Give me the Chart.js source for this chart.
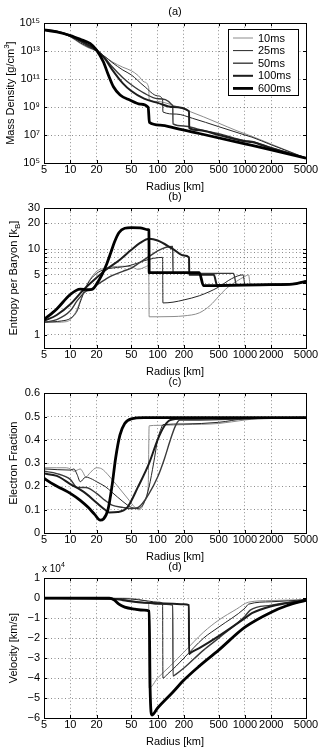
<!DOCTYPE html>
<html>
<head>
<meta charset="utf-8">
<script src="https://cdn.jsdelivr.net/npm/chart.js@4.4.0/dist/chart.umd.min.js"></script>
<style>
  body { margin: 0; background: #fff; width: 322px; height: 749px; position: relative; overflow: hidden; }
  .panel { position: absolute; left: 0; width: 322px; height: 194px; }
</style>
</head>
<body>
<div class="panel" style="top:0px"><canvas id="chart-a"></canvas></div>
<div class="panel" style="top:185px"><canvas id="chart-b"></canvas></div>
<div class="panel" style="top:370px"><canvas id="chart-c"></canvas></div>
<div class="panel" style="top:555px"><canvas id="chart-d"></canvas></div>
<script>
const FONT = "'Liberation Sans', Arial, Helvetica, sans-serif";

const timeLabels = ['10ms', '25ms', '50ms', '100ms', '600ms'];
const lineColors = ['#8c8c8c', '#262626', '#3a3a3a', '#1c1c1c', '#000000'];
const lineWidths = [1, 1, 1.4, 2, 2.8];

const radiusTicks = [5, 10, 20, 50, 100, 200, 500, 1000, 2000, 5000];
const densityTicksLog = [5, 7, 9, 11, 13, 15];
const entropyTicks = [1, 2, 3, 4, 5, 6, 7, 8, 9, 10, 20, 30];
const entropyLabels = [1, 5, 10, 20, 30];

/* ---- (a) mass density, log10 of g/cm^3 ---- */
const densR10 = [5, 7, 10, 13, 16, 20, 25, 30, 40, 50, 60, 70, 79, 80, 100, 139, 200, 336, 500, 812, 1100, 2000, 5000];
const densLog10 = [14.52, 14.4, 14.02, 13.55, 13.25, 13.0, 12.6, 12.25, 11.85, 11.6, 11.25, 10.8, 10.4, 9.55, 9.4, 9.2, 8.85, 8.3, 7.85, 7.3, 7.0, 6.35, 5.35];
const densR25 = [5, 7, 10, 13, 16, 20, 25, 30, 40, 50, 70, 100, 114, 115, 163, 250, 500, 1000, 1200, 2000, 5000];
const densLog25 = [14.52, 14.4, 14.05, 13.6, 13.3, 13.02, 12.6, 12.2, 11.65, 11.3, 10.5, 9.8, 9.55, 8.65, 8.5, 8.2, 7.6, 7.0, 6.85, 6.3, 5.35];
const densR50 = [5, 7, 10, 13, 16, 20, 25, 30, 40, 50, 70, 100, 149, 150, 200, 300, 500, 1000, 1200, 2000, 5000];
const densLog50 = [14.52, 14.4, 14.08, 13.7, 13.35, 13.05, 12.5, 11.9, 11.1, 10.6, 10.0, 9.6, 9.1, 7.8, 7.65, 7.4, 7.1, 6.6, 6.55, 6.1, 5.35];
const densR100 = [5, 7, 10, 13, 16, 20, 25, 30, 40, 50, 70, 100, 150, 229, 230, 300, 500, 1000, 1200, 2000, 5000];
const densLog100 = [14.52, 14.4, 14.1, 13.75, 13.45, 13.08, 12.45, 11.7, 10.7, 10.15, 9.6, 9.3, 9.0, 8.7, 7.5, 7.35, 7.0, 6.55, 6.5, 6.05, 5.35];
const densR600 = [5, 7, 10, 13, 16.8, 20, 23.9, 27.3, 31.2, 37.2, 48, 63, 78, 80.5, 107, 163, 300, 1000, 2000, 5000];
const densLog600 = [14.52, 14.38, 14.12, 13.85, 13.55, 13.07, 12.24, 11.29, 10.45, 9.86, 9.5, 9.21, 8.98, 7.9, 7.71, 7.48, 7.11, 6.37, 5.94, 5.35];

/* ---- (b) entropy per baryon ---- */
const entR10 = [5, 7, 9, 10, 11, 12, 13, 15, 17, 20, 25, 30, 40, 50, 60, 70, 79, 80, 100, 150, 200, 300, 400, 500, 600, 800, 1000, 1100, 1150, 2000, 3500, 5000];
const ent10 = [1.4, 1.4, 1.42, 1.5, 1.7, 2.0, 2.5, 3.6, 4.5, 5.5, 6.0, 6.2, 6.3, 6.2, 5.8, 6.1, 6.4, 1.62, 1.62, 1.63, 1.66, 1.8, 2.2, 2.8, 3.4, 4.2, 4.8, 5.0, 3.85, 3.85, 3.9, 4.2];
const entR25 = [5, 8, 10, 12, 13, 15, 17, 20, 25, 30, 40, 50, 70, 90, 114, 115, 150, 200, 300, 500, 700, 950, 1000, 2000, 3500, 5000];
const ent25 = [1.4, 1.45, 1.55, 1.9, 2.4, 3.5, 4.4, 5.2, 5.8, 6.0, 6.2, 6.5, 7.3, 7.8, 8.0, 2.35, 2.4, 2.55, 2.85, 3.6, 4.5, 5.0, 3.85, 3.85, 3.9, 4.2];
const entR50 = [5, 7, 10, 12, 15, 18, 20, 25, 30, 40, 50, 63, 80, 100, 125, 149, 150, 300, 500, 740, 800, 2000, 3500, 5000];
const ent50 = [1.4, 1.5, 1.9, 2.5, 3.2, 3.5, 3.8, 4.4, 4.9, 5.5, 6.0, 7.0, 8.2, 9.5, 10.5, 10.7, 5.2, 5.2, 5.2, 5.2, 3.8, 3.85, 3.9, 4.2];
const entR100 = [5, 7, 10, 14, 18, 26, 37, 50, 63, 80, 100, 150, 200, 229, 230, 440, 480, 2000, 3500, 5000];
const ent100 = [1.45, 1.7, 2.27, 3.3, 4.2, 5.8, 7.5, 9.8, 11.8, 13.2, 12.6, 10.0, 8.4, 8.0, 5.0, 5.0, 3.8, 3.85, 3.9, 4.2];
const entR600 = [5, 7, 10, 13, 16, 18, 20, 23, 26, 29, 32, 36, 42, 50, 63, 78, 79.5, 80, 150, 300, 335, 2000, 3500, 5000];
const ent600 = [1.5, 2.0, 2.95, 3.4, 3.35, 3.4, 3.9, 5.0, 6.6, 9.0, 12.0, 15.5, 17.5, 17.8, 17.7, 16.8, 16.6, 5.3, 5.3, 5.3, 3.75, 3.85, 3.9, 4.2];

/* ---- (c) electron fraction ---- */
const yeR10 = [5, 7, 9, 10, 11, 12, 13, 14, 15, 17, 20, 23, 27, 35, 45, 55, 60, 65, 72, 78, 80, 100, 200, 500, 1000, 2000, 5000];
const ye10 = [0.28, 0.28, 0.28, 0.275, 0.265, 0.27, 0.275, 0.26, 0.24, 0.26, 0.28, 0.275, 0.25, 0.2, 0.15, 0.11, 0.1, 0.105, 0.14, 0.2, 0.46, 0.462, 0.465, 0.47, 0.485, 0.495, 0.495];
const yeR25 = [5, 10, 11, 12, 13, 15, 18, 20, 25, 30, 40, 50, 60, 70, 80, 90, 100, 110, 115, 200, 500, 1000, 5000];
const ye25 = [0.275, 0.27, 0.275, 0.25, 0.22, 0.24, 0.23, 0.22, 0.2, 0.175, 0.135, 0.11, 0.105, 0.13, 0.2, 0.3, 0.4, 0.45, 0.465, 0.468, 0.475, 0.49, 0.495];
const yeR50 = [5, 7, 10, 12, 15, 20, 25, 30, 40, 50, 60, 80, 100, 120, 140, 160, 180, 300, 1000, 5000];
const ye50 = [0.265, 0.255, 0.23, 0.195, 0.195, 0.17, 0.14, 0.12, 0.11, 0.105, 0.11, 0.17, 0.24, 0.32, 0.4, 0.46, 0.485, 0.485, 0.49, 0.495];
const yeR100 = [5, 7, 10, 15, 20, 25, 28, 35, 45, 60, 80, 100, 120, 140, 200, 5000];
const ye100 = [0.255, 0.245, 0.21, 0.17, 0.13, 0.1, 0.088, 0.09, 0.11, 0.2, 0.3, 0.4, 0.46, 0.485, 0.49, 0.495];
const yeR600 = [5, 6, 8, 10, 13, 16, 19, 22, 24, 27, 30, 33, 37, 42, 50, 70, 5000];
const ye600 = [0.235, 0.215, 0.19, 0.17, 0.14, 0.11, 0.08, 0.055, 0.06, 0.1, 0.2, 0.32, 0.42, 0.47, 0.49, 0.495, 0.495];

/* ---- (d) velocity, units of 10^4 km/s ---- */
const velR10 = [5, 40, 60, 70, 79, 80, 100, 139, 200, 336, 500, 800, 1100, 2000, 5000];
const vel10 = [0, 0, -0.05, -0.12, -0.25, -4.5, -4.0, -3.4, -2.7, -1.7, -1.1, -0.55, -0.2, -0.12, -0.07];
const velR25 = [5, 40, 60, 80, 100, 114, 115, 130, 163, 200, 336, 500, 1000, 1100, 2000, 5000];
const vel25 = [0, -0.02, -0.08, -0.15, -0.2, -0.25, -4.0, -3.8, -3.4, -3.0, -2.0, -1.45, -0.5, -0.3, -0.18, -0.08];
const velR50 = [5, 35, 50, 80, 100, 149, 150, 163, 200, 336, 500, 1000, 1150, 2000, 5000];
const vel50 = [0, -0.05, -0.15, -0.25, -0.3, -0.35, -3.9, -3.8, -3.5, -2.6, -2.0, -0.9, -0.6, -0.35, -0.1];
const velR100 = [5, 30, 40, 60, 100, 150, 200, 228, 229, 235, 300, 500, 1000, 1200, 2000, 5000];
const vel100 = [0, -0.03, -0.1, -0.2, -0.25, -0.28, -0.3, -0.35, -2.8, -2.75, -2.5, -1.9, -1.0, -0.75, -0.4, -0.1];
const velR600 = [5, 28, 32, 36, 42, 55, 70, 80, 82, 86, 100, 150, 200, 300, 500, 1000, 2000, 3000, 5000];
const vel600 = [0, 0, -0.1, -0.3, -0.45, -0.55, -0.6, -0.65, -4.5, -5.85, -5.5, -4.7, -4.1, -3.4, -2.6, -1.45, -0.7, -0.38, -0.1];

function pairs(rs, vs, f) {
  return rs.map((r, i) => ({ x: r, y: f ? f(vs[i]) : vs[i] }));
}

function makeDatasets(series, f) {
  return series.map((s, i) => ({
    label: timeLabels[i],
    data: pairs(s[0], s[1], f),
    borderColor: lineColors[i],
    borderWidth: lineWidths[i],
    pointRadius: 0,
    fill: false,
    cubicInterpolationMode: 'monotone',
    order: 5 - i
  }));
}

// draw (optionally rotated) text made of plain / superscript / subscript pieces
function drawRichText(ctx, parts, x, y, size, rotate, align) {
  const small = Math.round(size * 0.72);
  ctx.save();
  ctx.translate(x, y);
  if (rotate) ctx.rotate(-Math.PI / 2);
  ctx.fillStyle = '#000';
  ctx.textBaseline = 'middle';
  ctx.textAlign = 'left';
  const widths = parts.map(p => {
    ctx.font = (p[1] ? small : size) + 'px ' + FONT;
    return ctx.measureText(p[0]).width;
  });
  const total = widths.reduce((a, b) => a + b, 0);
  let cx = align === 'left' ? 0 : -total / 2;
  parts.forEach((p, i) => {
    ctx.font = (p[1] ? small : size) + 'px ' + FONT;
    let dy = 0;
    if (p[1] === 'sup') dy = -size * 0.38;
    if (p[1] === 'sub') dy = size * 0.32;
    ctx.fillText(p[0], cx, dy);
    cx += widths[i];
  });
  ctx.restore();
}

const framePlugin = {
  id: 'frame',
  afterDraw(chart, args, opts) {
    const { ctx, chartArea: a, scales } = chart;
    ctx.save();
    ctx.strokeStyle = '#000';
    ctx.lineWidth = 1;
    ctx.setLineDash([]);
    ctx.strokeRect(Math.round(a.left) + 0.5, Math.round(a.top) + 0.5, Math.round(a.right - a.left), Math.round(a.bottom - a.top));
    ctx.beginPath();
    scales.x.ticks.forEach(t => {
      const px = Math.round(scales.x.getPixelForValue(t.value)) + 0.5;
      ctx.moveTo(px, a.bottom); ctx.lineTo(px, a.bottom - 3);
      ctx.moveTo(px, a.top); ctx.lineTo(px, a.top + 3);
    });
    scales.y.ticks.forEach(t => {
      const py = Math.round(scales.y.getPixelForValue(t.value)) + 0.5;
      ctx.moveTo(a.left, py); ctx.lineTo(a.left + 3, py);
      ctx.moveTo(a.right, py); ctx.lineTo(a.right - 3, py);
    });
    ctx.stroke();
    ctx.restore();
    if (opts.yTitle) {
      drawRichText(ctx, opts.yTitle, opts.yTitleX, (a.top + a.bottom) / 2, 11, true);
    }
    if (opts.exponent) {
      drawRichText(ctx, opts.exponent, a.left - 2, a.top - 9, 10, false, 'left');
    }
  }
};

const legendPlugin = {
  id: 'boxLegend',
  afterDraw(chart, args, opts) {
    if (!opts.show) return;
    const ctx = chart.ctx;
    ctx.save();
    ctx.fillStyle = '#fff';
    ctx.fillRect(228, 29, 70, 66);
    ctx.strokeStyle = '#000';
    ctx.lineWidth = 1;
    ctx.strokeRect(228.5, 29.5, 70, 66);
    ctx.font = '11px ' + FONT;
    ctx.textBaseline = 'middle';
    chart.data.datasets.forEach((ds, i) => {
      const y = 38 + i * 12.6;
      ctx.strokeStyle = ds.borderColor;
      ctx.lineWidth = ds.borderWidth;
      ctx.beginPath();
      ctx.moveTo(233, y); ctx.lineTo(253, y);
      ctx.stroke();
      ctx.fillStyle = '#000';
      ctx.fillText(ds.label, 258, y + 0.5);
    });
    ctx.restore();
  }
};

Chart.register(framePlugin, legendPlugin);

function baseScales(yOpts) {
  return {
    x: {
      type: 'logarithmic',
      min: 5,
      max: 5000,
      afterBuildTicks: s => { s.ticks = radiusTicks.map(v => ({ value: v })); },
      afterFit: s => { s.height = 31; },
      ticks: {
        autoSkip: false, maxRotation: 0, padding: 0, color: '#000',
        font: { family: FONT, size: 11 },
        callback: v => String(v)
      },
      grid: { color: 'rgba(0,0,0,0.45)', lineWidth: 1, drawTicks: false },
      border: { display: false, dash: [1, 2.5] },
      title: { display: true, text: 'Radius [km]', color: '#000', font: { family: FONT, size: 11 }, padding: { top: 2, bottom: 0 } }
    },
    y: Object.assign({
      afterFit: s => { s.width = 44; },
      grid: { color: 'rgba(0,0,0,0.45)', lineWidth: 1, drawTicks: false },
      border: { display: false, dash: [1, 2.5] }
    }, yOpts)
  };
}

function makeChart(id, letter, datasets, yOpts, frameOpts, legend) {
  return new Chart(document.getElementById(id), {
    type: 'line',
    data: { datasets },
    options: {
      responsive: true,
      maintainAspectRatio: false,
      animation: false,
      layout: { padding: { left: 0, right: 16, top: 0, bottom: 0 } },
      scales: baseScales(yOpts),
      plugins: {
        legend: { display: false },
        tooltip: { enabled: false },
        title: {
          display: true, text: letter, fullSize: false, color: '#000',
          font: { family: FONT, size: 11, weight: 'normal' },
          padding: { top: 5, bottom: 5 }
        },
        frame: frameOpts,
        boxLegend: { show: legend }
      }
    }
  });
}

const supDigits = { '0': '\u2070', '1': '\u00b9', '2': '\u00b2', '3': '\u00b3', '4': '\u2074', '5': '\u2075', '6': '\u2076', '7': '\u2077', '8': '\u2078', '9': '\u2079' };

makeChart('chart-a', '(a)',
  makeDatasets([[densR10, densLog10], [densR25, densLog25], [densR50, densLog50], [densR100, densLog100], [densR600, densLog600]], v => Math.pow(10, v)),
  {
    type: 'logarithmic', min: 1e5, max: 1e15,
    afterBuildTicks: s => { s.ticks = densityTicksLog.map(e => ({ value: Math.pow(10, e) })); },
    ticks: {
      padding: 4, color: '#000', font: { family: FONT, size: 11 },
      callback: v => '10' + String(Math.round(Math.log10(v))).split('').map(c => supDigits[c]).join('')
    }
  },
  { yTitle: [['Mass Density [g/cm'], ['3', 'sup'], [']']], yTitleX: 11 },
  true);

makeChart('chart-b', '(b)',
  makeDatasets([[entR10, ent10], [entR25, ent25], [entR50, ent50], [entR100, ent100], [entR600, ent600]]),
  {
    type: 'logarithmic', min: 0.72, max: 30,
    afterBuildTicks: s => { s.ticks = entropyTicks.map(v => ({ value: v })); },
    ticks: {
      autoSkip: false, padding: 4, color: '#000', font: { family: FONT, size: 11 },
      callback: v => entropyLabels.includes(v) ? String(v) : ''
    }
  },
  { yTitle: [['Entropy per Baryon [k'], ['B', 'sub'], [']']], yTitleX: 14 },
  false);

makeChart('chart-c', '(c)',
  makeDatasets([[yeR10, ye10], [yeR25, ye25], [yeR50, ye50], [yeR100, ye100], [yeR600, ye600]]),
  {
    type: 'linear', min: 0, max: 0.6,
    ticks: {
      stepSize: 0.1, padding: 4, color: '#000', font: { family: FONT, size: 11 },
      callback: v => (Math.abs(v) < 1e-9 ? '0' : v.toFixed(1))
    }
  },
  { yTitle: [['Electron Fraction']], yTitleX: 14 },
  false);

makeChart('chart-d', '(d)',
  makeDatasets([[velR10, vel10], [velR25, vel25], [velR50, vel50], [velR100, vel100], [velR600, vel600]]),
  {
    type: 'linear', min: -6, max: 1,
    ticks: {
      stepSize: 1, padding: 4, color: '#000', font: { family: FONT, size: 11 },
      callback: v => (v < 0 ? '\u2212' + Math.abs(v) : String(v))
    }
  },
  { yTitle: [['Velocity [km/s]']], yTitleX: 14, exponent: [['x 10'], ['4', 'sup']] },
  false);
</script>
</body>
</html>
